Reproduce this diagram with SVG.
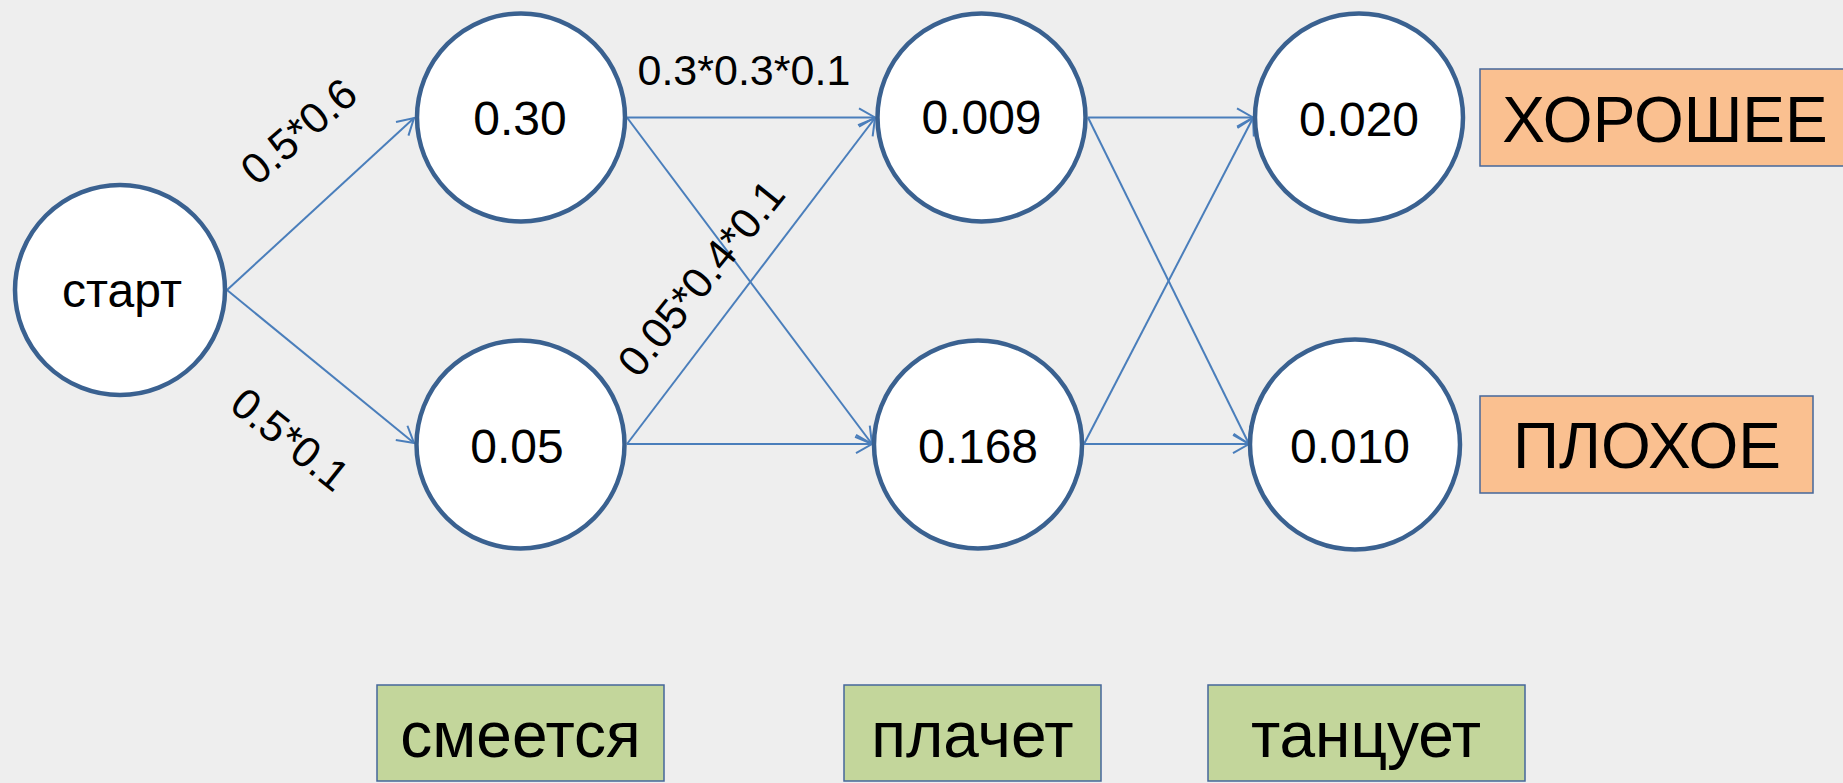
<svg xmlns="http://www.w3.org/2000/svg" width="1843" height="783" viewBox="0 0 1843 783">
  <style>
    .state { fill: #ffffff; stroke: #3a6190; stroke-width: 4.5; }
    .val { font-family: "Liberation Sans", Arial, sans-serif; font-size: 48px; fill: #000000; text-anchor: middle; }
    .edge { stroke: #4a7ebb; stroke-width: 2; fill: none; marker-end: url(#arrow); }
    .prob { font-family: "Liberation Sans", Arial, sans-serif; font-size: 43px; fill: #000000; text-anchor: middle; }
    .obs { fill: #c3d69b; stroke: #45679a; stroke-width: 1.5; }
    .hid { fill: #fac090; stroke: #45679a; stroke-width: 1.5; }
    .tag { font-family: "Liberation Sans", Arial, sans-serif; font-size: 64px; fill: #000000; text-anchor: middle; }
  </style>
  <defs>
    <marker id="arrow" markerUnits="userSpaceOnUse" markerWidth="40" markerHeight="40" viewBox="-20 -20 40 40" refX="0" refY="0" orient="auto">
      <path d="M-16,-9.2 L0,0 L-16,9.2" fill="none" stroke="#4a7ebb" stroke-width="2"/>
    </marker>
  </defs>

  <rect width="1843" height="783" fill="#eeeeee"/>

  <!-- transitions -->
  <g id="connectors">
    <line class="edge" x1="227" y1="290" x2="414" y2="118"/>
    <line class="edge" x1="227" y1="290" x2="414" y2="443"/>
    <line class="edge" x1="627" y1="117.5" x2="875" y2="117.5"/>
    <line class="edge" x1="627" y1="117.5" x2="872" y2="444"/>
    <line class="edge" x1="627" y1="444" x2="875" y2="118"/>
    <line class="edge" x1="627" y1="444" x2="872" y2="444"/>
    <line class="edge" x1="1088" y1="117.5" x2="1253" y2="117.5"/>
    <line class="edge" x1="1088" y1="117.5" x2="1249" y2="444"/>
    <line class="edge" x1="1084" y1="444" x2="1253" y2="118"/>
    <line class="edge" x1="1084" y1="444" x2="1249" y2="444"/>
  </g>

  <!-- transition products -->
  <g id="edge-labels">
    <text class="prob" transform="translate(298.7,131.2) rotate(-40.7)" x="0" y="15">0.5*0.6</text>
    <text class="prob" transform="translate(290.3,439.2) rotate(38.5)" x="0" y="15">0.5*0.1</text>
    <text class="prob" x="637.5" y="85" style="text-anchor:start">0.3*0.3*0.1</text>
    <text class="prob" transform="translate(701,278) rotate(-51)" x="0" y="15">0.05*0.4*0.1</text>
  </g>

  <!-- states -->
  <g id="node-start">
    <circle class="state" cx="120" cy="290" r="105"/>
    <text class="val" x="122" y="307">старт</text>
  </g>
  <g id="node-s1-good">
    <circle class="state" cx="521" cy="117.5" r="104"/>
    <text class="val" x="520" y="135">0.30</text>
  </g>
  <g id="node-s1-bad">
    <circle class="state" cx="520.5" cy="444.5" r="104"/>
    <text class="val" x="517" y="463">0.05</text>
  </g>
  <g id="node-s2-good">
    <circle class="state" cx="981.5" cy="117.5" r="104"/>
    <text class="val" x="981.5" y="134">0.009</text>
  </g>
  <g id="node-s2-bad">
    <circle class="state" cx="978" cy="444.5" r="104"/>
    <text class="val" x="978" y="463">0.168</text>
  </g>
  <g id="node-s3-good">
    <circle class="state" cx="1359" cy="117.5" r="104"/>
    <text class="val" x="1359" y="136">0.020</text>
  </g>
  <g id="node-s3-bad">
    <circle class="state" cx="1355" cy="444.5" r="105"/>
    <text class="val" x="1350" y="463">0.010</text>
  </g>

  <!-- hidden state names -->
  <g id="label-good">
    <rect class="hid" x="1480" y="69" width="380" height="97"/>
    <text class="tag" x="1665" y="142">ХОРОШЕЕ</text>
  </g>
  <g id="label-bad">
    <rect class="hid" x="1480" y="396" width="333" height="97"/>
    <text class="tag" x="1647" y="468">ПЛОХОЕ</text>
  </g>

  <!-- observations -->
  <g id="obs-laughs">
    <rect class="obs" x="377" y="685" width="287" height="96"/>
    <text class="tag" x="520.5" y="757">смеется</text>
  </g>
  <g id="obs-cries">
    <rect class="obs" x="844" y="685" width="257" height="96"/>
    <text class="tag" x="972.5" y="757">плачет</text>
  </g>
  <g id="obs-dances">
    <rect class="obs" x="1208" y="685" width="317" height="96"/>
    <text class="tag" x="1366" y="757">танцует</text>
  </g>
</svg>
